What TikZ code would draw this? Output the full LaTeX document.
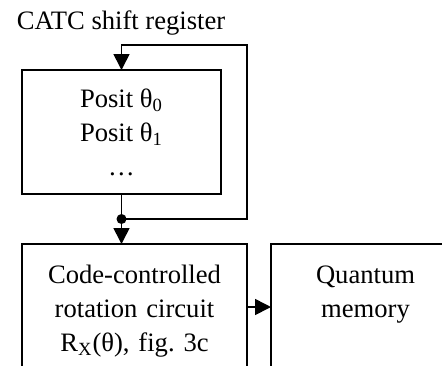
\documentclass[tikz,border=0pt]{standalone}
\usepackage{fontspec}
\setmainfont{Liberation Serif}
\usetikzlibrary{arrows.meta,calc}
\frenchspacing

\begin{document}
\begin{tikzpicture}[x=0.5pt,y=-0.5pt,
    every node/.style={font=\fontsize{13.3}{17}\selectfont},
    block/.style={draw,line width=0.8pt,align=center,inner sep=0pt,outer sep=0pt},
    wire/.style={line width=0.8pt},
    arr/.style={wire,-{Triangle[length=8pt,width=8pt]}}]
    \clip (0,0) rectangle (442,365);
    % Title
    \node[anchor=base west,inner sep=0pt] (title) at (16.5,29) {CATC shift register};
    % Shift register
    \node[block,minimum width=99.5pt,minimum height=62pt] (reg) at (121.5,132)
        {Posit θ\textsubscript{0}\\Posit θ\textsubscript{1}\\…};
    % Rotation circuit and memory (cut off at the bottom)
    \node[block,anchor=north,text width=112.5pt,text height=19.5pt,text depth=43.5pt] (rot) at (134.5,244)
        {Code-controlled\\rotation circuit\\R\textsubscript{X}(θ), fig. 3c};
    \node[block,anchor=north,text width=94.5pt,text height=19.5pt,text depth=43.5pt] (mem) at (365.5,244)
        {Quantum\\memory};
    % Connections
    \coordinate (fork) at ($(reg.south)+(0,25)$);
    \coordinate (loop) at (247,45);
    \draw[arr] (reg.south) -- (reg.south |- rot.north);
    \draw[arr] (fork) -| (loop) -| (reg.north);
    \fill (fork) circle (2.5pt);
    \draw[arr] (rot.east) -- (mem.west);
\end{tikzpicture}
\end{document}
